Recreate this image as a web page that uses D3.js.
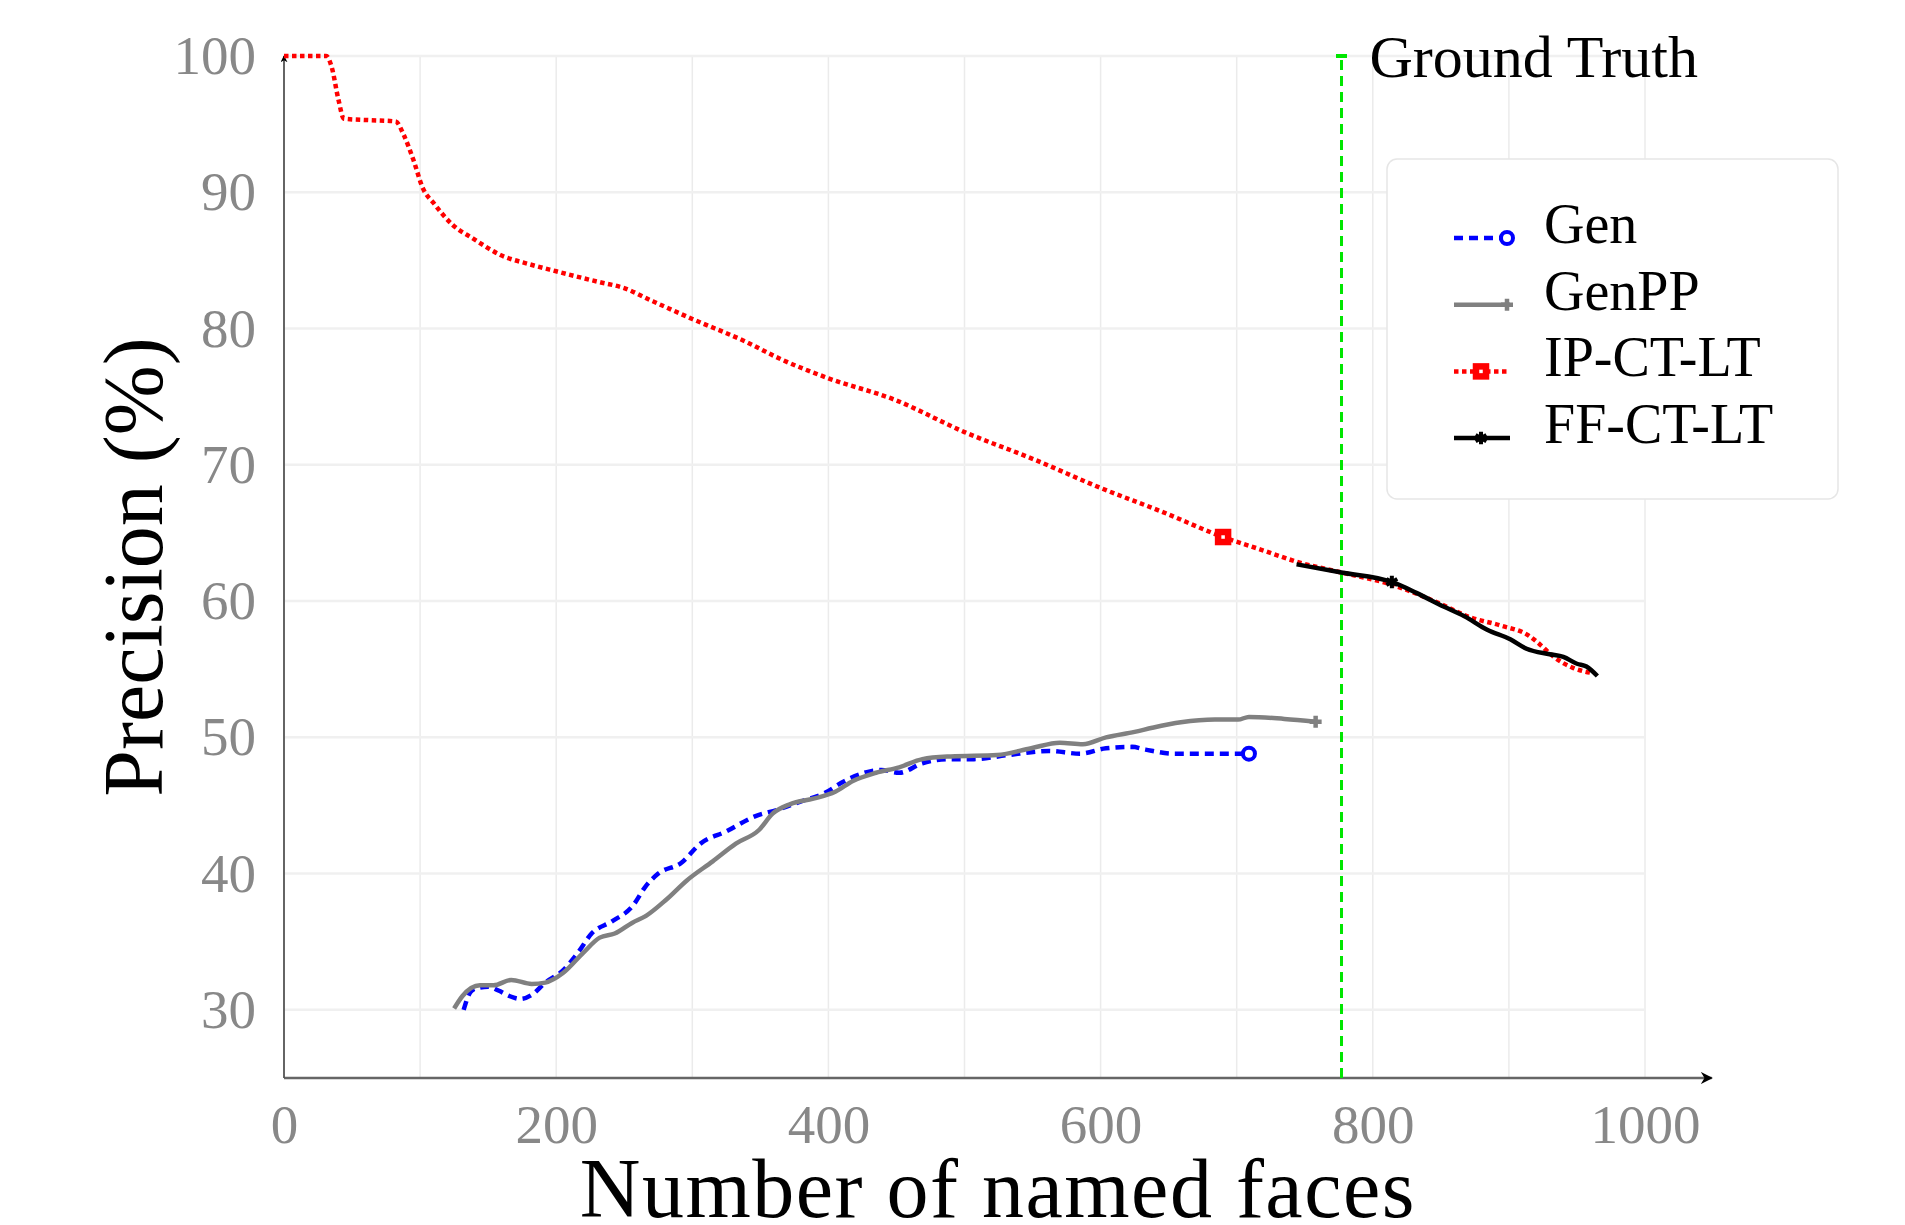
<!DOCTYPE html>
<html>
<head>
<meta charset="utf-8">
<script src="https://cdn.jsdelivr.net/npm/d3@7"></script>
<style>
  body { margin: 0; background: #fff; }
  svg { display: block; font-family: "Liberation Serif", "DejaVu Serif", serif; }
  .grid line { stroke: #ebebeb; stroke-width: 1.5; }
  .tick-label { fill: #888; font-size: 55px; font-family: "Liberation Serif", serif; }
  .title { fill: #000; font-size: 84px; }
  .legend text { font-size: 56px; fill: #000; }
</style>
</head>
<body>
<script>
var width = 1905,
    height = 1225;

// series names and values: [named faces, precision %]
var seriesNames = ["Gen", "GenPP", "IP-CT-LT", "FF-CT-LT"];

var gen = [[132,30.0],[137,31.3],[142,31.6],[150,31.7],[158,31.4],[166,31.0],[174,30.8],[182,31.1],
  [192,32.0],[205,32.9],[216,34.2],[226,35.6],[241,36.5],[256,37.6],[266,39.1],[275,40.0],[292,40.8],
  [306,42.2],[325,43.1],[346,44.2],[363,44.7],[380,45.3],[397,45.9],[412,46.8],[439,47.6],[452,47.4],
  [469,48.1],[490,48.4],[507,48.4],[532,48.7],[562,49.0],[585,48.8],[604,49.2],[623,49.3],[633,49.1],
  [654,48.8],[684,48.8],[709,48.8]];

var genPP = [[125,30.1],[131,31.0],[144,31.8],[154,31.8],[167,32.2],[182,31.9],[192,32.0],[205,32.7],
  [220,34.2],[232,35.3],[243,35.6],[256,36.4],[266,36.9],[281,38.1],[296,39.5],[315,40.9],[332,42.2],
  [349,43.2],[359,44.4],[372,45.1],[389,45.5],[405,46.0],[418,46.8],[435,47.4],[452,47.8],[469,48.4],
  [490,48.6],[524,48.7],[549,49.2],[570,49.6],[587,49.5],[604,50.0],[625,50.4],[638,50.7],[659,51.1],
  [684,51.3],[701,51.3],[709,51.5],[735,51.35],[758,51.15]];

var ipCtLt = [[0,100],[31,100],[35,99.2],[40,96.8],[44,95.4],[61,95.3],[82,95.2],[88,94.2],[95,92.4],
  [102,90.3],[110,89.2],[124,87.6],[139,86.6],[159,85.4],[181,84.7],[200,84.2],[232,83.4],[249,83.0],
  [271,82.0],[300,80.7],[340,79.0],[364,77.8],[400,76.35],[448,74.8],[500,72.4],[551,70.4],[600,68.3],
  [644,66.6],[690,64.7],[717,63.8],[747,62.8],[777,62.1],[814,61.2],[854,59.6],[869,58.9],[894,58.2],
  [914,57.5],[923,56.8],[933,55.9],[947,55.1],[962,54.7]];

var ffCtLt = [[744,62.7],[777,62.1],[814,61.4],[832,60.6],[852,59.6],[867,58.9],[884,57.9],[901,57.2],
  [913,56.5],[930,56.1],[940,55.9],[950,55.4],[957,55.2],[965,54.5]];

// x value where each series shows its single marker
var markAt = [709, 758, 690, 814];

var groundTruth = 777;

var xTicks = [0, 200, 400, 600, 800, 1000],
    xGrid = d3.range(0, 1001, 100),
    yTicks = [30, 40, 50, 60, 70, 80, 90, 100];

var x = d3.scaleLinear().domain([0, 1000]).range([284, 1645]),
    y = d3.scaleLinear().domain([25, 100]).range([1078, 56]);

var svg = d3.select("body").append("svg")
    .attr("width", width)
    .attr("height", height);

var defs = svg.append("defs");
defs.append("marker")
    .attr("id", "arrow")
    .attr("viewBox", "0 0 10 10")
    .attr("refX", 9).attr("refY", 5)
    .attr("markerWidth", 7).attr("markerHeight", 7)
    .attr("markerUnits", "userSpaceOnUse")
    .attr("orient", "auto")
  .append("path")
    .attr("d", "M0,0L10,5L0,10L3,5Z")
    .attr("fill", "#000");
defs.append("marker")
    .attr("id", "arrowX")
    .attr("viewBox", "0 0 10 10")
    .attr("refX", 9).attr("refY", 5)
    .attr("markerWidth", 12).attr("markerHeight", 12)
    .attr("markerUnits", "userSpaceOnUse")
    .attr("orient", "auto")
  .append("path")
    .attr("d", "M0,0L10,5L0,10L3,5Z")
    .attr("fill", "#000");

// grid
var grid = svg.append("g").attr("class", "grid");
grid.selectAll(".v").data(xGrid).enter().append("line")
    .attr("x1", function(d) { return x(d); })
    .attr("x2", function(d) { return x(d); })
    .attr("y1", y(25)).attr("y2", y(100));
grid.selectAll(".h").data(yTicks).enter().append("line")
    .attr("x1", x(0)).attr("x2", x(1000))
    .attr("y1", function(d) { return y(d); })
    .attr("y2", function(d) { return y(d); })
    .style("stroke", "#f0f0f0").style("stroke-width", 2.5);

// axes drawn by d3, then restyled
var xAxis = svg.append("g")
    .attr("transform", "translate(0," + y(25) + ")")
    .call(d3.axisBottom(x).tickValues(xTicks).tickFormat(d3.format("d")).tickSize(0).tickPadding(26))
    .attr("font-family", null).attr("font-size", null);
xAxis.select(".domain").remove();
xAxis.selectAll("text").attr("class", "tick-label");

var yAxis = svg.append("g")
    .attr("transform", "translate(" + x(0) + ",0)")
    .call(d3.axisLeft(y).tickValues(yTicks).tickSize(0).tickPadding(28))
    .attr("font-family", null).attr("font-size", null);
yAxis.select(".domain").remove();
yAxis.selectAll("text").attr("class", "tick-label");

svg.append("line")
    .attr("x1", x(0)).attr("x2", x(1049))
    .attr("y1", y(25)).attr("y2", y(25))
    .attr("stroke", "#666").attr("stroke-width", 2.5)
    .attr("marker-end", "url(#arrowX)");
svg.append("line")
    .attr("x1", x(0)).attr("x2", x(0))
    .attr("y1", y(25)).attr("y2", y(100))
    .attr("stroke", "#555").attr("stroke-width", 1.8)
    .attr("marker-end", "url(#arrow)");

// titles
svg.append("text")
    .attr("class", "title")
    .attr("x", (x(0) + x(1049)) / 2)
    .attr("y", 1217)
    .attr("text-anchor", "middle")
    .style("letter-spacing", "1.5px")
    .text("Number of named faces");
svg.append("text")
    .attr("class", "title")
    .attr("transform", "translate(162," + (y(25) + y(100)) / 2 + ")rotate(-90)")
    .attr("text-anchor", "middle")
    .text("Precision (%)");

// ground truth
svg.append("line")
    .attr("x1", x(groundTruth)).attr("x2", x(groundTruth))
    .attr("y1", y(25)).attr("y2", y(100))
    .attr("stroke", "#00e600").attr("stroke-width", 3)
    .attr("stroke-dasharray", "10,6");
svg.append("rect")
    .attr("x", x(groundTruth) - 5.5).attr("y", y(100) - 2)
    .attr("width", 11).attr("height", 4)
    .attr("fill", "#00e600");
svg.append("text")
    .attr("x", x(groundTruth) + 28)
    .attr("y", y(100) + 21)
    .attr("font-size", 60)
    .text("Ground Truth");

// series
var styles = [
  { color: "#0000ff", dash: "9,6", mark: "circle" },
  { color: "#808080", dash: null, mark: "plus" },
  { color: "#ff0000", dash: "4.5,3.5", mark: "square" },
  { color: "#000000", dash: null, mark: "star" }
];
var allSeries = [gen, genPP, ipCtLt, ffCtLt];

var line = d3.line()
    .x(function(d) { return x(d[0]); })
    .y(function(d) { return y(d[1]); })
    .curve(d3.curveMonotoneX);

function drawMarker(g, kind, color, cx, cy) {
  if (kind === "circle") {
    g.append("circle").attr("cx", cx).attr("cy", cy).attr("r", 6)
      .attr("fill", "#fff").attr("stroke", color).attr("stroke-width", 4);
  } else if (kind === "plus") {
    g.append("path").attr("d", "M" + (cx - 6) + "," + cy + "H" + (cx + 6) + "M" + cx + "," + (cy - 6) + "V" + (cy + 6))
      .attr("stroke", color).attr("stroke-width", 4.5);
  } else if (kind === "square") {
    g.append("rect").attr("x", cx - 5).attr("y", cy - 5).attr("width", 10).attr("height", 10)
      .attr("fill", "#fff").attr("stroke", color).attr("stroke-width", 6.5);
  } else {
    g.append("path").attr("d", d3.symbol().type(d3.symbolAsterisk).size(110)())
      .attr("transform", "translate(" + cx + "," + cy + ")")
      .attr("stroke", color).attr("stroke-width", 4);
  }
}

var plot = svg.append("g");
allSeries.forEach(function(data, i) {
  var s = styles[i];
  plot.append("path")
      .datum(data)
      .attr("d", line)
      .attr("fill", "none")
      .attr("stroke", s.color)
      .attr("stroke-width", 4.5)
      .attr("stroke-dasharray", s.dash);
  var pt = data.find(function(d) { return d[0] === markAt[i]; });
  drawMarker(plot, s.mark, s.color, x(pt[0]), y(pt[1]));
});

// legend
var legend = svg.append("g").attr("class", "legend");
legend.append("rect")
    .attr("x", 1387).attr("y", 159)
    .attr("width", 451).attr("height", 340)
    .attr("rx", 10)
    .attr("fill", "#fff")
    .attr("stroke", "#e6e6e6")
    .attr("stroke-width", 1.5);

seriesNames.forEach(function(name, i) {
  var s = styles[i],
      ly = 238 + i * 66.7,
      row = legend.append("g");
  row.append("line")
      .attr("x1", 1454).attr("x2", 1510)
      .attr("y1", ly).attr("y2", ly)
      .attr("stroke", s.color).attr("stroke-width", 4.5)
      .attr("stroke-dasharray", s.dash);
  var mx = (s.mark === "circle" || s.mark === "plus") ? 1507 : 1481;
  drawMarker(row, s.mark, s.color, mx, ly);
  row.append("text")
      .attr("x", 1544).attr("y", ly + 5)
      .text(name);
});
</script>
</body>
</html>
